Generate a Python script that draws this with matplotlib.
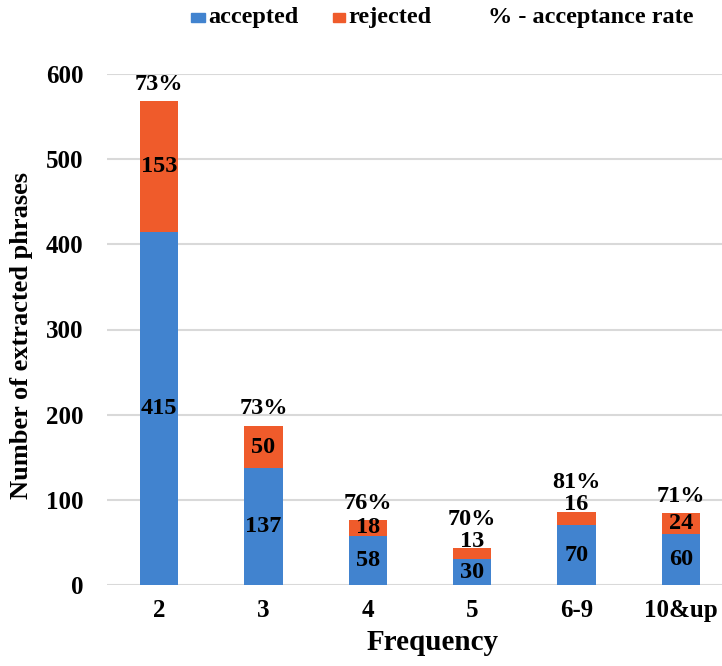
import matplotlib
matplotlib.use("Agg")
import matplotlib.pyplot as plt
from matplotlib.patches import Rectangle

plt.rcParams['font.family'] = ['Liberation Serif', 'DejaVu Serif']
plt.rcParams['font.weight'] = 'bold'

categories = ["2", "3", "4", "5", "6-9", "10&up"]
accepted = [415, 137, 58, 30, 70, 60]
rejected = [153, 50, 18, 13, 16, 24]
rate_labels = ["73%", "73%", "76%", "70%", "81%", "71%"]

BLUE = "#4183CF"
ORANGE = "#EF5B2B"
GRID = "#D9D9D9"
W, H = 722, 666

fig = plt.figure(figsize=(W / 100, H / 100), dpi=100)
ax = fig.add_axes([107 / W, 81 / H, 626 / W, 511 / H])

x = list(range(len(categories)))
width = 0.37
ax.bar(x, accepted, width, color=BLUE, zorder=3)
ax.bar(x, rejected, width, bottom=accepted, color=ORANGE, zorder=3)

fs_val = 17.5
for i in x:
    a, r = accepted[i], rejected[i]
    top = a + r
    ax.text(i, a / 2, str(a), ha='center', va='center', fontsize=fs_val,
            fontweight='bold', zorder=4)
    if r >= 18:
        ry = a + r / 2
        py = top + 20
    else:
        ry = top + 8
        py = ry + 26
    ax.text(i, ry, str(r), ha='center', va='center', fontsize=fs_val,
            fontweight='bold', zorder=4)
    ax.text(i, py, rate_labels[i], ha='center', va='center', fontsize=fs_val,
            fontweight='bold', zorder=4)

ax.set_xlim(-0.5, len(categories) - 0.5)
ax.set_ylim(0, 600)
ax.set_yticks(range(0, 601, 100))
ax.set_xticks(x)
ax.set_xticklabels(categories)
ax.yaxis.grid(True, color=GRID, linewidth=1.5, zorder=0)
ax.set_axisbelow(True)
for s in ax.spines.values():
    s.set_visible(False)
ax.tick_params(axis='both', length=0, labelsize=18)
ax.tick_params(axis='y', pad=17)
ax.tick_params(axis='x', pad=10)
for lbl in ax.get_xticklabels() + ax.get_yticklabels():
    lbl.set_fontweight('bold')

fig.text(22 / W, 1 - 335 / H, "Number of extracted phrases", rotation=90,
         ha='center', va='center', fontsize=19, fontweight='bold')
fig.text(433 / W, 1 - 642 / H, "Frequency", ha='center', va='center',
         fontsize=21, fontweight='bold')

# legend row drawn in figure pixels
ly = 1 - 18 / H
for x0, x1, col in [(191, 205, BLUE), (333, 345, ORANGE)]:
    fig.patches.append(Rectangle((x0 / W, 1 - 22 / H), (x1 - x0) / W, 9 / H,
                                 transform=fig.transFigure, color=col))
fig.text(208 / W, ly, "accepted", ha='left', va='center', fontsize=17.5,
         fontweight='bold')
fig.text(348 / W, ly, "rejected", ha='left', va='center', fontsize=17.5,
         fontweight='bold')
fig.text(488 / W, ly, "% - acceptance rate", ha='left', va='center',
         fontsize=17.5, fontweight='bold')

fig.savefig("out.png", dpi=100)
